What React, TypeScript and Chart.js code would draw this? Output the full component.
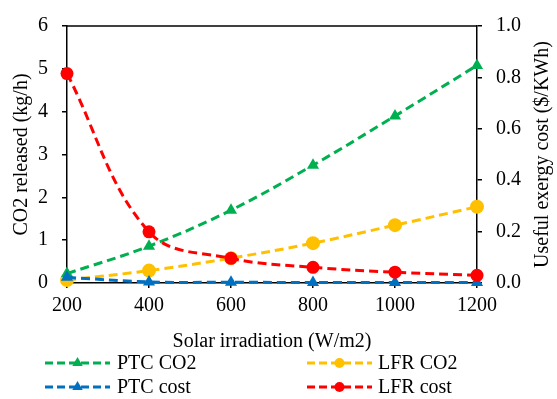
import React, { useEffect, useRef } from "react";
import { Chart, registerables } from "chart.js";
Chart.register(...registerables);

const irradiation = [200, 400, 600, 800, 1000, 1200];
const ptcCO2 = [0.22, 0.86, 1.7, 2.75, 3.9, 5.08];
const lfrCO2 = [0.07, 0.29, 0.58, 0.93, 1.35, 1.78];
const ptcCost = [0.022, 0.004, 0.003, 0.002, 0.002, 0.002];
const lfrCost = [0.815, 0.199, 0.096, 0.061, 0.042, 0.03];
const seriesNames = ["PTC CO2", "LFR CO2", "PTC cost", "LFR cost"];
const seriesColors = ["#00B050", "#FFC000", "#0070C0", "#FF0000"];

const FONT = "'Liberation Serif', 'Times New Roman', serif";
const FS = 20;

const toPts = (ys: number[]) => irradiation.map((x, i) => ({ x, y: ys[i] }));

function drawMarker(ctx: CanvasRenderingContext2D, style: string, x: number, y: number, r: number, color: string) {
  ctx.save();
  ctx.fillStyle = color;
  ctx.beginPath();
  if (style === "triangle") {
    ctx.moveTo(x, y - r);
    ctx.lineTo(x + r * 0.866, y + r * 0.5);
    ctx.lineTo(x - r * 0.866, y + r * 0.5);
    ctx.closePath();
  } else {
    ctx.arc(x, y, r, 0, Math.PI * 2);
  }
  ctx.fill();
  ctx.restore();
}

const extrasPlugin = {
  id: "extras",
  afterDraw(chart: any) {
    const ctx = chart.ctx as CanvasRenderingContext2D;
    const a = chart.chartArea;
    ctx.save();
    // top border
    ctx.strokeStyle = "#000";
    ctx.lineWidth = 1.5;
    ctx.beginPath();
    ctx.moveTo(a.left, a.top);
    ctx.lineTo(a.right, a.top);
    ctx.stroke();
    // right title (reads bottom to top)
    ctx.fillStyle = "#000";
    ctx.font = `${FS}px ${FONT}`;
    ctx.textAlign = "center";
    ctx.textBaseline = "middle";
    ctx.translate(543, (a.top + a.bottom) / 2);
    ctx.rotate(-Math.PI / 2);
    ctx.fillText("Useful exergy cost ($/KWh)", 0, 0);
    ctx.restore();

    // legend
    const cols = [{ x0: 45, x1: 110, tx: 117 }, { x0: 307, x1: 372, tx: 378 }];
    const rows = [363, 387];
    chart.data.datasets.forEach((ds: any, i: number) => {
      const c = cols[i % 2];
      const y = rows[Math.floor(i / 2)];
      ctx.save();
      ctx.strokeStyle = ds.borderColor;
      ctx.lineWidth = 3;
      ctx.setLineDash([8, 4]);
      ctx.beginPath();
      ctx.moveTo(c.x0, y);
      ctx.lineTo(c.x1, y);
      ctx.stroke();
      ctx.setLineDash([]);
      drawMarker(ctx, ds.pointStyle, (c.x0 + c.x1) / 2, y, ds.pointStyle === "triangle" ? 6 : 5, ds.borderColor);
      ctx.fillStyle = "#000";
      ctx.font = `${FS}px ${FONT}`;
      ctx.textAlign = "left";
      ctx.textBaseline = "middle";
      ctx.fillText(ds.label, c.tx, y + 1);
      ctx.restore();
    });
  },
};

export default function App() {
  const ref = useRef<HTMLCanvasElement | null>(null);
  useEffect(() => {
    document.body.style.margin = "0";
    const canvas = ref.current!;
    const mk = (i: number, data: number[], axis: string, style: string, r: number, order: number) => ({
      label: seriesNames[i],
      data: toPts(data),
      yAxisID: axis,
      borderColor: seriesColors[i],
      backgroundColor: seriesColors[i],
      pointBackgroundColor: seriesColors[i],
      pointBorderColor: seriesColors[i],
      pointBorderWidth: 0,
      pointStyle: style,
      pointRadius: r,
      borderWidth: 3,
      borderDash: [9, 5],
      tension: 0.38,
      clip: false,
      order,
    });
    const chart = new Chart(canvas, {
      type: "line",
      data: {
        datasets: [
          mk(0, ptcCO2, "y", "triangle", 7, 2),
          mk(1, lfrCO2, "y", "circle", 7, 3),
          mk(2, ptcCost, "y1", "triangle", 7, 1),
          mk(3, lfrCost, "y1", "circle", 6.5, 0),
        ],
      },
      options: {
        animation: false,
        responsive: false,
        layout: { padding: { left: 0, right: 0, top: 16, bottom: 45 } },
        plugins: { legend: { display: false }, tooltip: { enabled: false } },
        scales: {
          x: {
            type: "linear",
            min: 200,
            max: 1200,
            afterFit: (s: any) => { s.height = 71; },
            ticks: { stepSize: 200, color: "#000", font: { family: FONT, size: FS }, padding: 6, maxRotation: 0, callback: (v: any) => String(v) },
            grid: { display: true, drawOnChartArea: false, drawTicks: true, tickLength: 5, color: "#000", lineWidth: 1.5 },
            border: { display: true, color: "#000", width: 1.5 },
            title: { display: true, text: "Solar irradiation (W/m2)", color: "#000", font: { family: FONT, size: FS }, padding: 0 },
          },
          y: {
            position: "left",
            min: 0,
            max: 6,
            afterFit: (s: any) => { s.width = 67; },
            ticks: { stepSize: 1, color: "#000", font: { family: FONT, size: FS }, padding: 14 },
            grid: { display: true, drawOnChartArea: false, drawTicks: true, tickLength: 5, color: "#000", lineWidth: 1.5 },
            border: { display: true, color: "#000", width: 1.5 },
            title: { display: true, text: "CO2 released (kg/h)", color: "#000", font: { family: FONT, size: FS }, padding: { top: 10, bottom: 0 } },
          },
          y1: {
            position: "right",
            min: 0,
            max: 1,
            afterFit: (s: any) => { s.width = 80; },
            ticks: { stepSize: 0.2, color: "#000", font: { family: FONT, size: FS }, padding: 14, callback: (v: any) => Number(v).toFixed(1) },
            grid: { display: true, drawOnChartArea: false, drawTicks: true, tickLength: 5, color: "#000", lineWidth: 1.5 },
            border: { display: true, color: "#000", width: 1.5 },
          },
        },
      } as any,
      plugins: [extrasPlugin],
    });
    return () => chart.destroy();
  }, []);
  return (
    <div style={{ width: 557, height: 399, background: "#fff" }}>
      <canvas ref={ref} width={557} height={399} />
    </div>
  );
}
